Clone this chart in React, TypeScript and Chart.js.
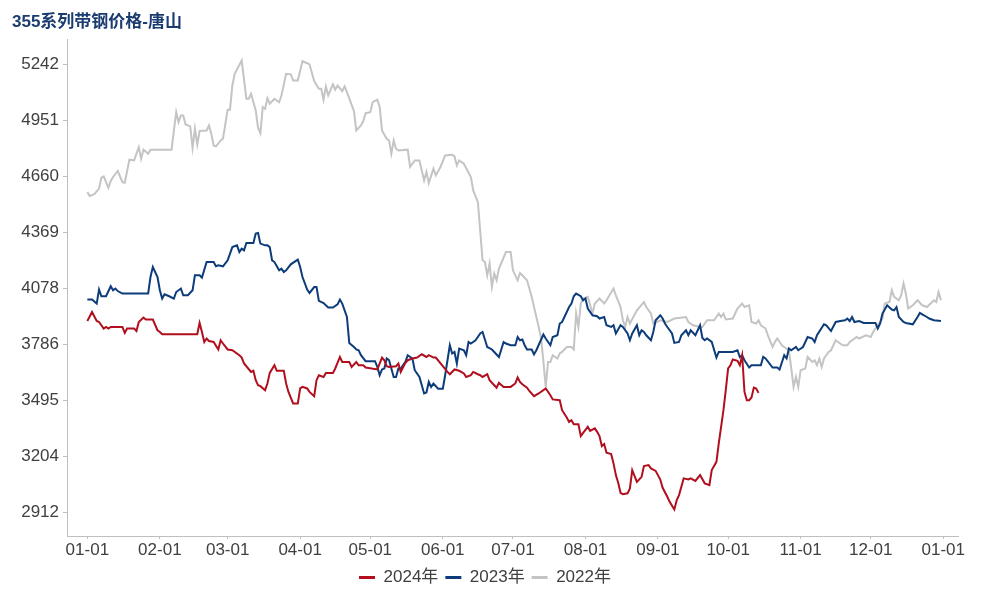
import React, { useEffect, useRef } from "react";
import { Chart, registerables } from "chart.js";

Chart.register(...registerables);

const TITLE = "355系列带钢价格-唐山";
const MONTH_DAYS = [0, 31, 60, 91, 121, 152, 182, 213, 244, 274, 305, 335, 366];
const MONTH_LABELS = ["01-01", "02-01", "03-01", "04-01", "05-01", "06-01", "07-01", "08-01", "09-01", "10-01", "11-01", "12-01", "01-01"];
const Y_TICKS = [2912, 3204, 3495, 3786, 4078, 4369, 4660, 4951, 5242];
const SERIES_NAMES = ["2024年", "2023年", "2022年"];

const DAYS_2024 = [0, 2, 4, 5, 7, 8, 9, 10, 15, 16, 17, 20, 21, 22, 24, 25, 28, 30, 31, 32, 47, 48, 49, 50, 51, 52, 54, 56, 57, 58, 60, 62, 65, 66, 67, 70, 71, 72, 73, 74, 76, 77, 78, 80, 81, 84, 85, 86, 88, 90, 91, 92, 94, 95, 97, 98, 99, 101, 102, 105, 106, 108, 109, 112, 113, 115, 116, 118, 119, 124, 126, 127, 128, 129, 132, 133, 134, 136, 137, 139, 141, 143, 145, 146, 148, 149, 152, 154, 155, 157, 159, 161, 162, 164, 165, 167, 168, 169, 171, 172, 174, 175, 176, 178, 181, 183, 184, 185, 186, 188, 189, 191, 193, 195, 196, 198, 199, 202, 203, 205, 206, 207, 208, 210, 211, 212, 214, 215, 217, 218, 219, 220, 221, 222, 224, 225, 226, 227, 228, 229, 231, 232, 233, 235, 237, 238, 240, 241, 243, 245, 246, 248, 249, 251, 252, 253, 255, 257, 258, 260, 262, 264, 266, 267, 269, 270, 271, 272, 273, 274, 275, 276, 278, 279, 280, 281, 282, 283, 284, 285, 286, 287];
const PRICE_2024 = [3908, 3955, 3908, 3903, 3869, 3877, 3869, 3877, 3877, 3846, 3869, 3869, 3856, 3903, 3926, 3916, 3916, 3860, 3851, 3839, 3839, 3898, 3851, 3799, 3817, 3804, 3799, 3760, 3808, 3791, 3760, 3756, 3730, 3718, 3687, 3643, 3649, 3600, 3574, 3569, 3548, 3583, 3638, 3678, 3649, 3649, 3583, 3539, 3479, 3479, 3557, 3565, 3557, 3539, 3517, 3600, 3626, 3617, 3638, 3638, 3661, 3721, 3695, 3695, 3669, 3695, 3678, 3678, 3666, 3656, 3718, 3704, 3673, 3669, 3673, 3687, 3643, 3690, 3704, 3713, 3718, 3735, 3721, 3730, 3718, 3718, 3673, 3643, 3631, 3656, 3649, 3635, 3617, 3626, 3643, 3631, 3626, 3617, 3631, 3600, 3574, 3561, 3586, 3565, 3565, 3583, 3614, 3591, 3579, 3561, 3544, 3517, 3531, 3548, 3557, 3522, 3500, 3496, 3444, 3406, 3383, 3392, 3371, 3371, 3309, 3326, 3357, 3336, 3349, 3331, 3309, 3257, 3268, 3222, 3215, 3167, 3106, 3066, 3014, 3007, 3011, 3037, 3132, 3071, 3097, 3153, 3158, 3141, 3128, 3083, 3040, 2993, 2967, 2927, 2975, 3002, 3089, 3083, 3089, 3076, 3106, 3063, 3054, 3132, 3175, 3271, 3357, 3444, 3548, 3661, 3678, 3708, 3701, 3678, 3730, 3539, 3496, 3496, 3510, 3562, 3557, 3534];

const DAYS_2023 = [0, 2, 4, 5, 6, 8, 10, 11, 12, 13, 15, 26, 27, 28, 30, 31, 32, 33, 35, 37, 38, 40, 41, 43, 45, 46, 48, 49, 51, 54, 55, 56, 58, 60, 62, 64, 65, 66, 67, 68, 71, 72, 73, 74, 76, 77, 78, 79, 80, 82, 83, 84, 85, 87, 90, 91, 92, 94, 95, 97, 98, 99, 101, 103, 105, 107, 108, 109, 111, 112, 114, 115, 116, 117, 119, 123, 124, 125, 126, 127, 128, 129, 131, 132, 133, 134, 136, 137, 139, 140, 142, 144, 145, 146, 147, 148, 150, 152, 153, 155, 156, 157, 158, 159, 161, 162, 163, 164, 166, 168, 169, 170, 171, 173, 174, 176, 178, 179, 181, 183, 184, 185, 186, 187, 188, 190, 191, 192, 195, 196, 198, 199, 201, 202, 203, 204, 206, 207, 208, 209, 211, 212, 213, 214, 216, 218, 219, 221, 222, 224, 225, 226, 228, 229, 231, 232, 233, 235, 236, 237, 238, 239, 241, 242, 243, 245, 246, 247, 248, 250, 251, 253, 254, 256, 257, 258, 260, 262, 263, 264, 265, 267, 269, 270, 276, 278, 279, 280, 281, 283, 284, 288, 289, 290, 293, 295, 296, 298, 299, 300, 301, 303, 304, 306, 308, 310, 311, 312, 315, 316, 318, 320, 322, 324, 325, 326, 327, 328, 330, 332, 337, 338, 339, 340, 342, 344, 345, 346, 347, 349, 350, 353, 355, 356, 357, 359, 360, 362, 365];
const PRICE_2023 = [4020, 4020, 3999, 4072, 4037, 4037, 4089, 4068, 4077, 4064, 4051, 4051, 4137, 4189, 4137, 4068, 4025, 4047, 4037, 4025, 4059, 4077, 4042, 4042, 4068, 4146, 4146, 4134, 4215, 4215, 4193, 4198, 4193, 4224, 4293, 4302, 4267, 4285, 4276, 4314, 4314, 4363, 4366, 4311, 4302, 4302, 4293, 4224, 4215, 4172, 4181, 4163, 4172, 4203, 4228, 4189, 4137, 4072, 4054, 4085, 4085, 4013, 4002, 3978, 3978, 3995, 4020, 3999, 3929, 3794, 3773, 3760, 3756, 3730, 3699, 3699, 3669, 3626, 3656, 3661, 3713, 3704, 3617, 3617, 3661, 3661, 3695, 3730, 3713, 3652, 3617, 3531, 3536, 3591, 3565, 3582, 3556, 3556, 3626, 3782, 3739, 3747, 3687, 3765, 3756, 3730, 3799, 3791, 3808, 3843, 3851, 3812, 3773, 3760, 3747, 3721, 3799, 3791, 3782, 3782, 3825, 3808, 3812, 3782, 3760, 3760, 3735, 3756, 3838, 3817, 3782, 3825, 3834, 3895, 3903, 3929, 3981, 3999, 4037, 4051, 4037, 4016, 4025, 3973, 3938, 3933, 3921, 3929, 3886, 3877, 3886, 3843, 3886, 3877, 3843, 3808, 3843, 3886, 3834, 3860, 3851, 3834, 3808, 3851, 3912, 3938, 3921, 3895, 3877, 3843, 3794, 3799, 3834, 3860, 3834, 3860, 3834, 3886, 3820, 3808, 3817, 3799, 3718, 3747, 3747, 3756, 3720, 3730, 3704, 3666, 3678, 3678, 3721, 3713, 3666, 3666, 3656, 3730, 3713, 3765, 3756, 3773, 3756, 3773, 3825, 3817, 3799, 3834, 3891, 3886, 3856, 3903, 3908, 3912, 3921, 3908, 3929, 3903, 3908, 3898, 3898, 3869, 3895, 3947, 3990, 3968, 3964, 3981, 3929, 3903, 3898, 3891, 3929, 3950, 3943, 3929, 3921, 3912, 3908];

const DAYS_2022 = [0, 1, 3, 5, 6, 7, 9, 10, 11, 13, 15, 16, 18, 20, 22, 23, 24, 26, 27, 36, 38, 39, 40, 41, 42, 44, 45, 46, 47, 48, 51, 52, 53, 54, 55, 57, 58, 60, 61, 62, 63, 66, 68, 69, 70, 72, 73, 74, 75, 76, 77, 78, 80, 82, 83, 85, 87, 88, 90, 92, 94, 95, 97, 99, 100, 101, 102, 103, 105, 106, 107, 109, 110, 111, 114, 115, 117, 118, 119, 121, 122, 124, 125, 126, 128, 129, 130, 131, 132, 133, 137, 138, 139, 140, 142, 144, 145, 146, 148, 149, 151, 153, 156, 157, 158, 159, 161, 164, 165, 167, 169, 170, 171, 172, 173, 174, 175, 176, 179, 181, 182, 184, 185, 186, 188, 190, 191, 193, 194, 195, 196, 197, 198, 199, 201, 202, 203, 205, 207, 208, 209, 210, 211, 212, 214, 216, 217, 219, 221, 222, 225, 226, 228, 229, 230, 231, 232, 235, 238, 239, 241, 242, 245, 248, 251, 256, 257, 259, 262, 263, 265, 268, 270, 271, 272, 273, 276, 278, 280, 281, 283, 284, 286, 287, 288, 290, 291, 293, 294, 295, 297, 298, 300, 301, 302, 303, 304, 305, 307, 308, 310, 311, 312, 313, 314, 315, 317, 318, 320, 321, 323, 325, 326, 329, 330, 333, 335, 336, 338, 340, 341, 343, 344, 345, 347, 348, 349, 350, 351, 353, 355, 357, 359, 362, 363, 364, 365];
const PRICE_2022 = [4579, 4559, 4568, 4597, 4654, 4661, 4602, 4637, 4658, 4689, 4631, 4628, 4748, 4744, 4813, 4753, 4800, 4779, 4800, 4800, 4995, 4943, 4978, 4978, 4931, 4921, 4810, 4909, 4827, 4897, 4900, 4926, 4883, 4822, 4817, 4848, 4857, 5008, 5008, 5134, 5195, 5264, 5065, 5065, 5091, 5004, 4914, 4886, 5022, 5013, 5068, 5039, 5065, 5047, 5082, 5195, 5192, 5160, 5160, 5261, 5250, 5244, 5157, 5117, 5117, 5060, 5129, 5082, 5140, 5112, 5134, 5105, 5129, 5099, 5001, 4900, 4926, 4949, 4990, 4995, 5047, 5060, 5022, 4900, 4857, 4848, 4779, 4848, 4805, 4796, 4800, 4710, 4727, 4744, 4744, 4640, 4684, 4626, 4701, 4666, 4710, 4770, 4774, 4765, 4718, 4744, 4727, 4657, 4588, 4527, 4224, 4215, 4146, 4207, 4086, 4155, 4120, 4181, 4267, 4267, 4172, 4120, 4158, 4146, 4120, 4034, 3981, 3877, 3820, 3700, 3565, 3695, 3695, 3730, 3713, 3739, 3747, 3773, 3773, 3760, 3947, 3877, 3999, 4025, 4034, 3947, 3999, 4025, 3999, 4016, 4077, 4042, 3981, 3912, 3877, 3929, 3895, 3964, 4007, 3981, 3947, 3895, 3912, 3903, 3921, 3929, 3903, 3886, 3877, 3877, 3912, 3912, 3947, 3929, 3947, 3916, 3921, 3973, 3999, 3981, 3990, 3903, 3895, 3912, 3886, 3869, 3834, 3773, 3799, 3817, 3782, 3773, 3756, 3661, 3565, 3617, 3565, 3652, 3661, 3721, 3695, 3704, 3678, 3713, 3669, 3713, 3747, 3756, 3808, 3799, 3782, 3782, 3799, 3825, 3817, 3834, 3825, 3851, 3886, 3921, 3999, 4007, 4068, 4034, 4016, 4042, 4103, 4051, 3973, 3990, 4016, 3990, 3981, 4016, 4007, 4059, 4016];

const COLORS = ["#B10F1E", "#0D3C7B", "#C4C4C4"];
const FONT_FAMILY = '"Liberation Sans", Arial, "Noto Sans CJK SC", sans-serif';

function toPoints(days: number[], vals: number[]) {
  return days.map((d, i) => ({ x: d, y: vals[i] }));
}

export default function App() {
  const canvasRef = useRef<HTMLCanvasElement | null>(null);

  useEffect(() => {
    if (!canvasRef.current) return;
    const seriesData = [
      toPoints(DAYS_2024, PRICE_2024),
      toPoints(DAYS_2023, PRICE_2023),
      toPoints(DAYS_2022, PRICE_2022),
    ];
    const chart = new Chart(canvasRef.current, {
      type: "line",
      data: {
        datasets: seriesData.map((d, i) => ({
          label: SERIES_NAMES[i],
          data: d,
          borderColor: COLORS[i],
          backgroundColor: COLORS[i],
          borderWidth: 2,
          pointRadius: 0,
          pointHoverRadius: 0,
          tension: 0,
          fill: false,
        })),
      },
      options: {
        responsive: false,
        animation: false,
        layout: { padding: { left: 12, right: 42, top: 0, bottom: 4 } },
        plugins: {
          tooltip: { enabled: false },
          title: {
            display: true,
            text: TITLE,
            align: "start",
            color: "#1B3C70",
            font: { family: FONT_FAMILY, size: 17, weight: "bold" },
            padding: { top: 12, bottom: 7 },
          },
          legend: {
            display: true,
            position: "bottom",
            labels: {
              color: "#404040",
              font: { family: FONT_FAMILY, size: 17 },
              boxWidth: 16,
              boxHeight: 3,
              padding: 7,
              generateLabels: (ch: any) => {
                const items = Chart.defaults.plugins.legend.labels.generateLabels(ch);
                return items.map((it: any, i: number) => ({
                  ...it,
                  fillStyle: COLORS[i],
                  strokeStyle: COLORS[i],
                  lineWidth: 0,
                }));
              },
            },
          },
        },
        scales: {
          x: {
            type: "linear",
            min: -8.7,
            max: 372.3,
            afterBuildTicks: (scale: any) => {
              scale.ticks = MONTH_DAYS.map((v) => ({ value: v }));
            },
            afterFit: (scale: any) => {
              scale.height = 26;
            },
            ticks: {
              autoSkip: false,
              maxRotation: 0,
              padding: 1,
              color: "#404040",
              font: { family: FONT_FAMILY, size: 17 },
              callback: (_v: any, idx: number) => MONTH_LABELS[idx],
            },
            grid: {
              display: true,
              drawOnChartArea: false,
              drawTicks: true,
              tickLength: 3,
              color: "#BFBFBF",
            },
            border: { display: true, color: "#BFBFBF", width: 1 },
          },
          y: {
            type: "linear",
            min: 2789,
            max: 5374,
            afterBuildTicks: (scale: any) => {
              scale.ticks = Y_TICKS.map((v) => ({ value: v }));
            },
            afterFit: (scale: any) => {
              scale.width = 55;
            },
            ticks: {
              padding: 4,
              color: "#404040",
              font: { family: FONT_FAMILY, size: 17 },
              callback: (v: any) => String(v),
            },
            grid: {
              display: true,
              drawOnChartArea: false,
              drawTicks: true,
              tickLength: 4,
              color: "#BFBFBF",
            },
            border: { display: true, color: "#BFBFBF", width: 1 },
          },
        },
      },
    });
    return () => chart.destroy();
  }, []);

  return (
    <div style={{ position: "absolute", left: 0, top: 0, width: 1000, height: 600, background: "#ffffff" }}>
      <canvas ref={canvasRef} width={1000} height={600} style={{ display: "block" }} />
    </div>
  );
}
